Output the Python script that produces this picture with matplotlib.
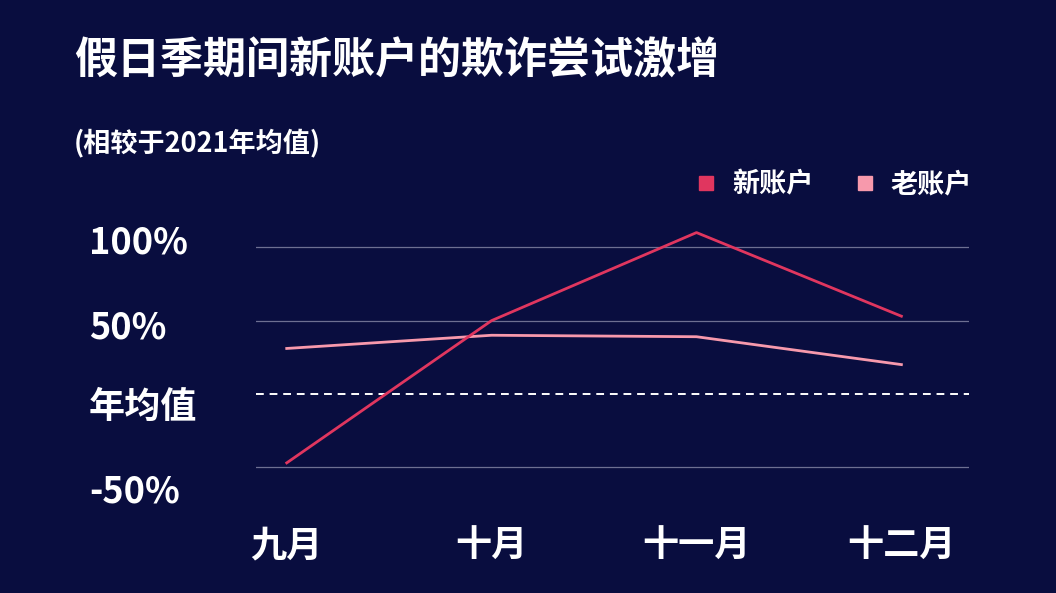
import matplotlib
matplotlib.use('Agg')
import matplotlib.pyplot as plt
import matplotlib.transforms as mtransforms
from matplotlib.lines import Line2D

plt.rcParams['font.family'] = ['Noto Sans CJK SC', 'DejaVu Sans']

months = ['九月', '十月', '十一月', '十二月']
new_acc = [-47, 50, 110, 53]
old_acc = [31, 40, 39, 20]
ytick_vals = [100, 50, 0, -50]
ytick_labels = ['100%', '50%', '年均值', '-50%']

bg = '#090d3f'
c_new = '#e0365f'
c_old = '#f799ac'

fig = plt.figure(figsize=(10.56, 5.93), dpi=100, facecolor=bg)
ax = fig.add_axes([256/1056, 1-500/593, 713/1056, 300/593])
ax.set_facecolor(bg)

x = range(len(months))
ax.plot(x, old_acc, color=c_old, lw=2)
ax.plot(x, new_acc, color=c_new, lw=2)

for v in [100, 50, -50]:
    ax.axhline(v, color='#6d6f92', lw=0.9, zorder=0)
ax.axhline(0, color='white', lw=1.4, ls=(0, (4, 3)), zorder=0)

ax.set_xlim(-0.15, 3.33)
ax.set_ylim(-72.3, 132.2)
for s in ax.spines.values():
    s.set_visible(False)
ax.set_yticks([])
ax.set_xticks(list(x))
ax.set_xticklabels(months, color='white', fontsize=26, fontweight='bold')
ax.tick_params(axis='x', length=0, pad=20)

# y labels sit a bit off their gridlines in the original
offsets = [3, -5, -10, -18]
for v, lab, off in zip(ytick_vals, ytick_labels, offsets):
    tr = mtransforms.blended_transform_factory(ax.transAxes, ax.transData)
    tr = tr + mtransforms.ScaledTranslation(0, off/72, fig.dpi_scale_trans)
    ax.text(-0.234, v, lab, transform=tr, color='white', fontsize=26,
            fontweight='bold', ha='left', va='center')

fig.text(74/1056, 1-60/593, '假日季期间新账户的欺诈尝试激增', color='white',
         fontsize=31, fontweight='bold', ha='left', va='center')
fig.text(74/1056, 1-143/593, '(相较于2021年均值)', color='white',
         fontsize=19.5, fontweight='bold', ha='left', va='center')

handles = [Line2D([], [], ls='', marker='s', ms=10, color=c_new),
           Line2D([], [], ls='', marker='s', ms=10, color=c_old)]
leg = fig.legend(handles, ['新账户', '老账户'], loc='center right',
                 bbox_to_anchor=(972/1056, 1-184/593), ncol=2, frameon=False,
                 borderpad=0, borderaxespad=0,
                 handletextpad=0.45, columnspacing=1.4, handlelength=1,
                 prop={'size': 19.5, 'weight': 'bold'})
for t in leg.get_texts():
    t.set_color('white')

fig.savefig('out.png', facecolor=bg)
